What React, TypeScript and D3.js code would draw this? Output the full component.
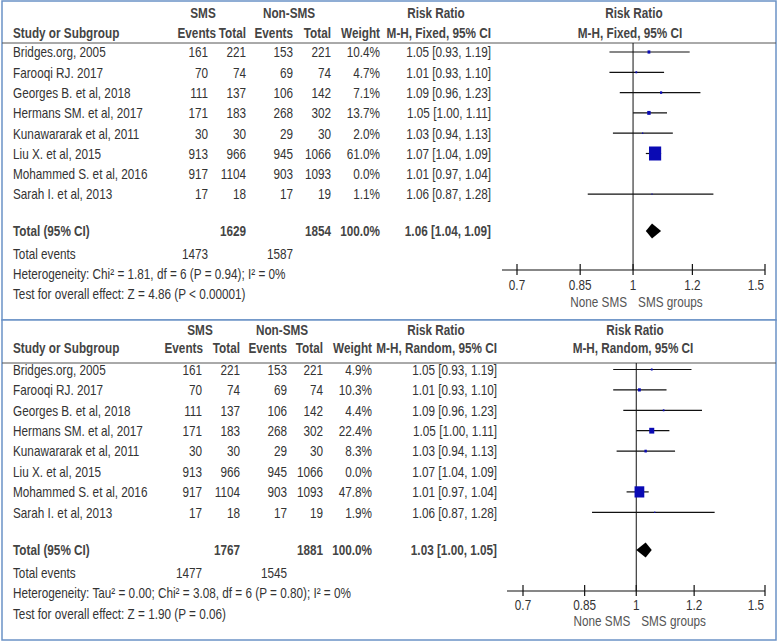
import React from "react";
import * as d3 from "d3";

const studies = [
  "Bridges.org, 2005",
  "Farooqi RJ. 2017",
  "Georges B. et al, 2018",
  "Hermans SM. et al, 2017",
  "Kunawararak et al, 2011",
  "Liu X. et al, 2015",
  "Mohammed S. et al, 2016",
  "Sarah I. et al, 2013",
];
const smsEvents = [161, 70, 111, 171, 30, 913, 917, 17];
const smsTotal = [221, 74, 137, 183, 30, 966, 1104, 18];
const nonEvents = [153, 69, 106, 268, 29, 945, 903, 17];
const nonTotal = [221, 74, 142, 302, 30, 1066, 1093, 19];
const rr = [1.05, 1.01, 1.09, 1.05, 1.03, 1.07, 1.01, 1.06];
const rrLo = [0.93, 0.93, 0.96, 1.0, 0.94, 1.04, 0.97, 0.87];
const rrHi = [1.19, 1.1, 1.23, 1.11, 1.13, 1.09, 1.04, 1.28];
const weightFixed = [10.4, 4.7, 7.1, 13.7, 2.0, 61.0, 0.0, 1.1];
const weightRandom = [4.9, 10.3, 4.4, 22.4, 8.3, 0.0, 47.8, 1.9];
const axisTicks = [0.7, 0.85, 1, 1.2, 1.5];
const tickLabels = ["0.7", "0.85", "1", "1.2", "1.5"];

const fixedTotals = { sms: 1629, non: 1854, smsEv: 1473, nonEv: 1587, rr: 1.06, lo: 1.04, hi: 1.09 };
const randomTotals = { sms: 1767, non: 1881, smsEv: 1477, nonEv: 1545, rr: 1.03, lo: 1.0, hi: 1.05 };

const fixedTexts = {
  method: "M-H, Fixed, 95% CI",
  het: "Heterogeneity: Chi\u00B2 = 1.81, df = 6 (P = 0.94); I\u00B2 = 0%",
  test: "Test for overall effect: Z = 4.86 (P < 0.00001)",
};
const randomTexts = {
  method: "M-H, Random, 95% CI",
  het: "Heterogeneity: Tau\u00B2 = 0.00; Chi\u00B2 = 3.08, df = 6 (P = 0.80); I\u00B2 = 0%",
  test: "Test for overall effect: Z = 1.90 (P = 0.06)",
};

const FONT = "'Liberation Sans', Arial, sans-serif";
const TXT = "#333";
const BLUE = "#0a0ab4";
const SX = 0.84;

type Layout = {
  top: number;
  bottom: number;
  hdr1: number;
  hdr2: number;
  hline: number;
  row0: number;
  rowStep: number;
  totalY: number;
  evY: number;
  hetY: number;
  testY: number;
  axisY: number;
  tickY: number;
  favY: number;
  xr: [number, number];
  axisLeft: number;
  cSmsEv: number;
  cSmsEvHdr: number;
  cSmsTot: number;
  cNonEv: number;
  cNonTot: number;
  cW: number;
  cRR: number;
  smsHdr: number;
  nonHdr: number;
  rrHdr: number;
  plotHdr: number;
  plotHdr2: number;
};

const fmt = (v: number) => v.toFixed(2);
const rrText = (a: number, b: number, c: number) => `${fmt(a)} [${fmt(b)}, ${fmt(c)}]`;

function T({
  x,
  y,
  anchor = "start",
  b = false,
  fill,
  children,
}: {
  x: number;
  y: number;
  anchor?: "start" | "middle" | "end";
  b?: boolean;
  fill?: string;
  children: React.ReactNode;
}) {
  return (
    <text
      transform={`translate(${x},${y}) scale(${SX},1)`}
      textAnchor={anchor}
      dominantBaseline="central"
      fontFamily={FONT}
      fontSize={14}
      fontWeight={b ? 700 : 400}
      fill={fill || (b ? "#444" : TXT)}
    >
      {children}
    </text>
  );
}

function Panel({ L, weights, totals, texts }: { L: Layout; weights: number[]; totals: typeof fixedTotals; texts: typeof fixedTexts }) {
  const x = d3.scaleLog().domain([0.7, 1.5]).range(L.xr);
  const size = d3.scaleLinear().domain([0, 61]).range([1, 14]);
  const ry = (i: number) => L.row0 + i * L.rowStep;
  const diamond =
    d3.line()([
      [x(totals.lo), L.totalY],
      [x(totals.rr), L.totalY - 7.5],
      [x(totals.hi), L.totalY],
      [x(totals.rr), L.totalY + 7.5],
    ]) + "Z";
  return (
    <g>
      <rect x={2} y={L.top} width={774} height={L.bottom - L.top} fill="white" stroke="#6b92c6" strokeWidth={1.5} />
      {/* headers */}
      <T b x={L.smsHdr} y={L.hdr1} anchor="middle">SMS</T>
      <T b x={L.nonHdr} y={L.hdr1} anchor="middle">Non-SMS</T>
      <T b x={L.rrHdr} y={L.hdr1} anchor="middle">Risk Ratio</T>
      <T b x={L.plotHdr} y={L.hdr1} anchor="middle">Risk Ratio</T>
      <T b x={13} y={L.hdr2}>Study or Subgroup</T>
      <T b x={L.cSmsEvHdr} y={L.hdr2} anchor="end">Events</T>
      <T b x={L.cSmsTot} y={L.hdr2} anchor="end">Total</T>
      <T b x={L.cNonEv} y={L.hdr2} anchor="end">Events</T>
      <T b x={L.cNonTot} y={L.hdr2} anchor="end">Total</T>
      <T b x={L.cW} y={L.hdr2} anchor="end">Weight</T>
      <T b x={L.cRR} y={L.hdr2} anchor="end">{texts.method}</T>
      <T b x={L.plotHdr2} y={L.hdr2} anchor="middle">{texts.method}</T>
      <line x1={2} x2={776} y1={L.hline} y2={L.hline} stroke="#555" strokeWidth={1} />
      {/* rows */}
      {studies.map((s, i) => (
        <g key={s}>
          <T x={13} y={ry(i)}>{s}</T>
          <T x={L.cSmsEv} y={ry(i)} anchor="end">{smsEvents[i]}</T>
          <T x={L.cSmsTot} y={ry(i)} anchor="end">{smsTotal[i]}</T>
          <T x={L.cNonEv} y={ry(i)} anchor="end">{nonEvents[i]}</T>
          <T x={L.cNonTot} y={ry(i)} anchor="end">{nonTotal[i]}</T>
          <T x={L.cW} y={ry(i)} anchor="end">{weights[i].toFixed(1)}%</T>
          <T x={L.cRR} y={ry(i)} anchor="end">{rrText(rr[i], rrLo[i], rrHi[i])}</T>
        </g>
      ))}
      {/* reference line */}
      <line x1={x(1)} x2={x(1)} y1={L.hline} y2={L.axisY} stroke="#111" strokeWidth={1} />
      {studies.map((s, i) =>
        weights[i] > 0 ? (
          <g key={"m" + s}>
            <line x1={x(rrLo[i])} x2={x(rrHi[i])} y1={ry(i) - 0.5} y2={ry(i) - 0.5} stroke="#111" strokeWidth={1.2} />
            <rect
              x={x(rr[i]) - (size(weights[i]) * 0.87) / 2}
              y={ry(i) - 0.5 - size(weights[i]) / 2}
              width={size(weights[i]) * 0.87}
              height={size(weights[i])}
              fill={BLUE}
            />
          </g>
        ) : null
      )}
      {/* totals */}
      <T b x={13} y={L.totalY}>Total (95% CI)</T>
      <T b x={L.cSmsTot} y={L.totalY} anchor="end">{totals.sms}</T>
      <T b x={L.cNonTot} y={L.totalY} anchor="end">{totals.non}</T>
      <T b x={L.cW} y={L.totalY} anchor="end">100.0%</T>
      <T b x={L.cRR} y={L.totalY} anchor="end">{rrText(totals.rr, totals.lo, totals.hi)}</T>
      <path d={diamond} fill="#000" />
      <T x={13} y={L.evY}>Total events</T>
      <T x={L.cSmsEv} y={L.evY} anchor="end">{totals.smsEv}</T>
      <T x={L.cNonEv} y={L.evY} anchor="end">{totals.nonEv}</T>
      <T x={13} y={L.hetY}>{texts.het}</T>
      <T x={13} y={L.testY}>{texts.test}</T>
      {/* axis */}
      <line x1={L.axisLeft} x2={x(1.5)} y1={L.axisY} y2={L.axisY} stroke="#111" strokeWidth={1.2} />
      {axisTicks.map((t, i) => (
        <g key={"t" + t}>
          <line x1={x(t)} x2={x(t)} y1={L.axisY - 6} y2={L.axisY + 5} stroke="#111" strokeWidth={1.2} />
          <T
            x={i === axisTicks.length - 1 ? x(t) - 1 : x(t)}
            y={L.tickY}
            anchor={i === axisTicks.length - 1 ? "end" : "middle"}
          >
            {tickLabels[i]}
          </T>
        </g>
      ))}
      <T fill="#555" x={x(1) - 6} y={L.favY} anchor="end">None SMS</T>
      <T fill="#555" x={x(1) + 5} y={L.favY}>SMS groups</T>
    </g>
  );
}

const topLayout: Layout = {
  top: 1, bottom: 320, hdr1: 13, hdr2: 33, hline: 43, row0: 52.5, rowStep: 20.3,
  totalY: 231, evY: 254, hetY: 274, testY: 294, axisY: 270, tickY: 285, favY: 302,
  xr: [517, 765], axisLeft: 502,
  cSmsEv: 208, cSmsEvHdr: 216, cSmsTot: 246, cNonEv: 293, cNonTot: 331, cW: 380, cRR: 491,
  smsHdr: 203, nonHdr: 289, rrHdr: 436, plotHdr: 634, plotHdr2: 630,
};
const bottomLayout: Layout = {
  top: 320, bottom: 640, hdr1: 330, hdr2: 348, hline: 363, row0: 370, rowStep: 20.4,
  totalY: 550, evY: 573, hetY: 593, testY: 614, axisY: 591, tickY: 605, favY: 621,
  xr: [523, 765], axisLeft: 507,
  cSmsEv: 202, cSmsEvHdr: 203, cSmsTot: 240, cNonEv: 287, cNonTot: 323, cW: 372, cRR: 497,
  smsHdr: 200, nonHdr: 282, rrHdr: 436, plotHdr: 635, plotHdr2: 633,
};

export default function App() {
  return (
    <svg width={778} height={642} style={{ position: "absolute", left: 0, top: 0, background: "white" }}>
      <rect width={778} height={642} fill="white" />
      <Panel L={topLayout} weights={weightFixed} totals={fixedTotals} texts={fixedTexts} />
      <Panel L={bottomLayout} weights={weightRandom} totals={randomTotals} texts={randomTexts} />
    </svg>
  );
}
